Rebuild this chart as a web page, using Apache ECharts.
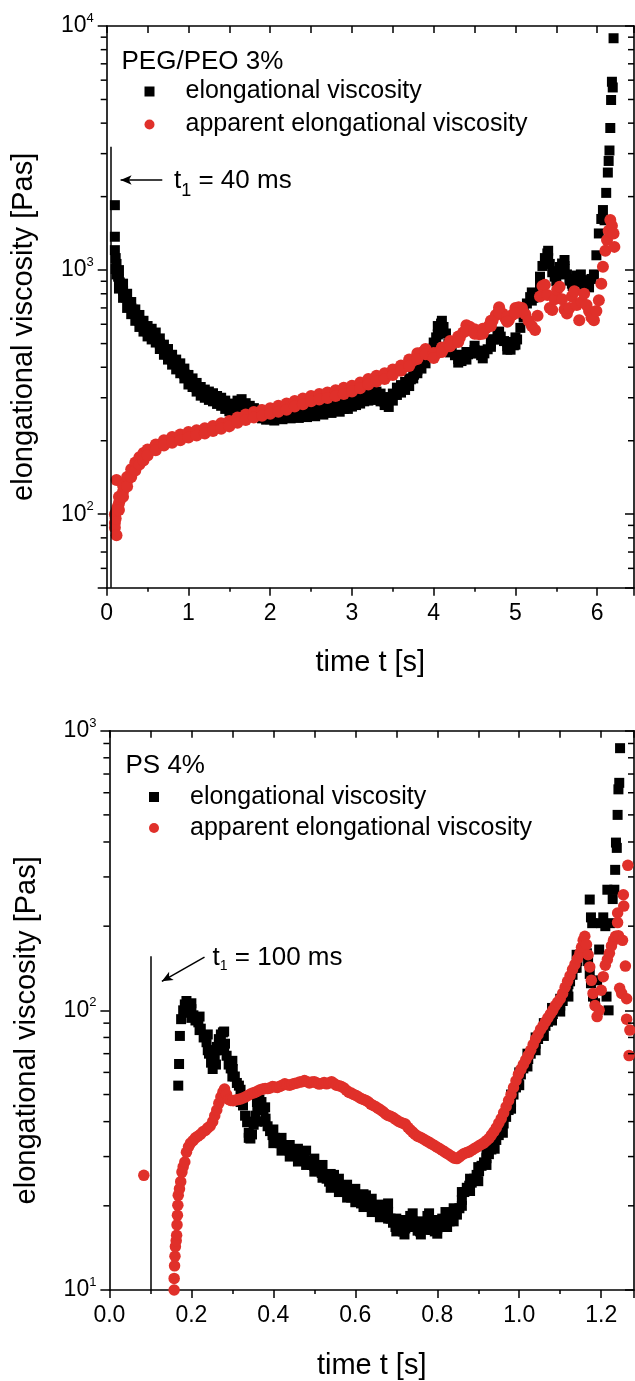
<!DOCTYPE html>
<html><head><meta charset="utf-8">
<script src="https://cdn.jsdelivr.net/npm/echarts@6/dist/echarts.min.js"></script>
<style>html,body{margin:0;padding:0;background:#fff;}#c{width:635px;height:1381px;}</style>
</head><body><div id="c"></div>
<script>
const FONT = '"Liberation Sans", Arial, sans-serif';
const RED = '#E0302A';
const seriesNames = ['elongational viscosity', 'apparent elongational viscosity'];
const panelTitles = ['PEG/PEO 3%', 'PS 4%'];
const xTitle = 'time t [s]';
const yTitle = 'elongational viscosity [Pas]';
const annotTexts = [['t', '1', ' = 40 ms'], ['t', '1', ' = 100 ms']];

// axes ranges
const topX = {min: 0, max: 6.45, interval: 1};
const topY = {min: 50, max: 10000};
const botX = {min: 0, max: 1.28, interval: 0.2};
const botY = {min: 10, max: 1000};
const topMinorY = [60,70,80,90,200,300,400,500,600,700,800,900,2000,3000,4000,5000,6000,7000,8000,9000];
const botMinorY = [20,30,40,50,60,70,80,90,200,300,400,500,600,700,800,900];

// t1 markers (data units)
const topT1 = {t: 0.05, top: 3200, arrowFrom: [0.68, 2340], arrowTo: [0.17, 2340]};
const botT1 = {t: 0.10, top: 156, arrowFrom: [0.232, 155], arrowTo: [0.128, 127]};

// PEG/PEO 3% : [t (s), viscosity (Pas)]
const pegElong = [[0.10,1845],[0.10,1370],[0.10,1207],[0.11,1120],[0.11,1010],[0.12,1060],[0.12,960],[0.13,990],[0.14,940],[0.15,915],[0.16,890],[0.18,860],[0.20,825],[0.22,795],[0.24,770],[0.26,740],[0.28,720],[0.30,700],[0.32,688],[0.34,672],[0.36,652],[0.38,636],[0.40,620],[0.42,606],[0.44,596],[0.46,582],[0.48,570],[0.50,560],[0.53,552],[0.56,544],[0.59,535],[0.62,516],[0.65,500],[0.68,482],[0.71,466],[0.74,452],[0.77,440],[0.80,430],[0.83,418],[0.86,408],[0.89,398],[0.92,386],[0.95,375],[0.98,362],[1.01,352],[1.04,346],[1.07,338],[1.10,330],[1.13,322],[1.16,316],[1.19,311],[1.22,308],[1.25,305],[1.28,301],[1.31,298],[1.34,293],[1.37,290],[1.40,287],[1.43,282],[1.46,277],[1.49,272],[1.52,268],[1.55,271],[1.58,279],[1.61,285],[1.64,286],[1.67,280],[1.70,274],[1.73,271],[1.76,268],[1.79,263],[1.82,260],[1.85,258],[1.88,256],[1.91,254],[1.94,250],[1.97,251],[2.00,252],[2.04,249],[2.08,254],[2.12,251],[2.16,256],[2.20,254],[2.24,257],[2.28,255],[2.32,259],[2.36,256],[2.40,261],[2.44,258],[2.48,263],[2.52,260],[2.56,266],[2.60,263],[2.64,268],[2.68,265],[2.72,271],[2.76,268],[2.80,275],[2.84,271],[2.88,279],[2.92,277],[2.96,284],[3.00,286],[3.04,290],[3.08,292],[3.12,297],[3.16,300],[3.20,302],[3.24,304],[3.28,306],[3.32,302],[3.36,298],[3.40,288],[3.44,281],[3.48,298],[3.52,310],[3.56,318],[3.60,325],[3.64,333],[3.68,343],[3.72,357],[3.76,373],[3.80,390],[3.84,408],[3.88,424],[3.92,440],[3.96,456],[4.00,480],[4.03,530],[4.06,575],[4.09,604],[4.12,585],[4.15,550],[4.18,500],[4.22,470],[4.26,448],[4.30,432],[4.34,424],[4.38,436],[4.42,452],[4.46,462],[4.50,470],[4.54,458],[4.58,448],[4.62,456],[4.66,474],[4.70,500],[4.74,520],[4.78,538],[4.82,534],[4.86,512],[4.90,488],[4.94,472],[4.98,492],[5.02,520],[5.06,580],[5.10,660],[5.14,730],[5.18,775],[5.22,770],[5.26,790],[5.30,900],[5.33,1040],[5.36,1120],[5.39,1170],[5.42,1060],[5.45,980],[5.48,940],[5.51,960],[5.54,1030],[5.57,1064],[5.60,1040],[5.63,960],[5.66,905],[5.69,880],[5.72,910],[5.75,950],[5.78,930],[5.81,900],[5.84,870],[5.87,855],[5.90,880],[5.93,920],[5.96,960],[5.99,1150],[6.02,1413],[6.05,1620],[6.07,1762],[6.09,1600],[6.11,2072],[6.13,2510],[6.14,2800],[6.15,3090],[6.16,3820],[6.17,4977],[6.18,5910],[6.19,5600],[6.20,8909]];
// scatter at the upper / lower edge of the measured band
const pegElongEdge = [[0.15,1000],[0.15,840],[0.20,880],[0.20,770],[0.25,800],[0.25,700],[0.30,740],[0.30,660],[0.35,690],[0.35,620],[0.40,655],[0.40,585],[0.45,620],[0.45,560],[0.50,590],[0.50,535],[0.55,575],[0.55,520],[0.60,555],[0.60,505],[0.65,525],[0.65,475],[0.70,495],[0.70,450],[0.75,475],[0.75,430],[0.80,450],[0.80,410],[0.85,430],[0.85,392],[0.90,415],[0.90,378],[0.95,395],[0.95,360],[1.00,372],[1.00,340],[1.05,360],[1.05,332],[1.10,345],[1.10,318],[1.15,332],[1.15,306],[1.20,324],[1.20,300],[1.25,318],[1.25,294],[1.30,313],[1.30,290],[1.35,305],[1.35,283],[1.40,300],[1.40,278],[1.45,292],[1.45,270],[1.50,284],[1.50,264],[1.55,280],[1.55,262],[1.60,292],[1.60,275],[1.65,296],[1.65,276],[1.70,285],[1.70,266],[1.75,278],[1.75,262],[1.80,272],[1.80,255],[1.85,268],[1.85,250],[1.90,264],[1.90,247],[1.95,260],[1.95,244],[2.00,262],[2.00,245],[2.05,260],[2.05,242],[2.10,264],[2.10,247],[2.15,262],[2.15,245],[2.20,266],[2.20,248],[2.25,265],[2.25,247],[2.30,269],[2.30,250],[2.35,266],[2.35,248],[2.40,272],[2.40,252],[2.45,268],[2.45,250],[2.50,274],[2.50,255],[2.55,271],[2.55,252],[2.60,277],[2.60,258],[2.65,279],[2.65,256],[2.70,283],[2.70,262],[2.75,280],[2.75,260],[2.80,288],[2.80,266],[2.85,284],[2.85,263],[2.90,292],[2.90,270],[2.95,291],[2.95,270],[3.00,298],[3.00,276],[3.05,302],[3.05,280],[3.10,306],[3.10,284],[3.15,312],[3.15,290],[3.20,314],[3.20,292],[3.25,318],[3.25,294],[3.30,318],[3.30,295],[3.35,312],[3.35,290],[3.40,302],[3.40,280],[3.45,295],[3.45,275],[3.50,312],[3.50,292],[3.55,330],[3.55,308],[3.60,338],[3.60,315],[3.65,348],[3.65,323],[3.70,360],[3.70,335],[3.75,386],[3.75,360],[3.80,405],[3.80,378],[3.85,425],[3.85,395],[3.90,445],[3.90,415],[3.95,470],[3.95,440],[4.00,505],[4.00,465],[4.05,590],[4.05,545],[4.10,620],[4.10,580],[4.20,500],[4.20,460],[4.30,450],[4.30,418],[4.40,462],[4.40,430],[4.50,490],[4.50,455],[4.60,468],[4.60,435],[4.70,520],[4.70,485],[4.80,560],[4.80,520],[4.90,508],[4.90,472],[5.00,530],[5.00,495],[5.10,690],[5.10,640],[5.20,810],[5.20,750],[5.30,940],[5.30,860],[5.40,1200],[5.40,1120],[5.50,990],[5.50,900],[5.60,1100],[5.60,1010],[5.70,920],[5.70,860],[5.80,960],[5.80,890],[5.90,910],[5.90,850]];
const pegApparent = [[0.10,100],[0.10,92],[0.10,88],[0.11,96],[0.12,138],[0.12,82],[0.12,103],[0.13,106],[0.14,108],[0.15,111],[0.16,114],[0.18,119],[0.20,124],[0.22,129],[0.24,134],[0.26,139],[0.28,143],[0.30,147],[0.32,151],[0.34,155],[0.36,159],[0.38,162],[0.40,165],[0.42,168],[0.44,170],[0.46,173],[0.48,176],[0.50,179],[0.53,182],[0.56,185],[0.59,188],[0.62,190],[0.65,192],[0.68,194],[0.71,196],[0.74,198],[0.77,200],[0.80,201],[0.83,203],[0.86,204],[0.89,206],[0.92,207],[0.95,209],[0.98,210],[1.01,212],[1.04,213],[1.07,214],[1.10,215],[1.13,217],[1.16,218],[1.19,219],[1.22,221],[1.25,222],[1.28,224],[1.31,225],[1.34,226],[1.37,228],[1.40,230],[1.43,231],[1.46,233],[1.49,235],[1.52,237],[1.55,239],[1.58,241],[1.61,243],[1.64,245],[1.67,248],[1.70,249],[1.73,251],[1.76,253],[1.79,254],[1.82,256],[1.85,257],[1.88,258],[1.91,260],[1.94,262],[1.97,263],[2.00,264],[2.04,266],[2.08,269],[2.12,271],[2.16,273],[2.20,275],[2.24,278],[2.28,281],[2.32,284],[2.36,287],[2.40,289],[2.44,292],[2.48,295],[2.52,298],[2.56,300],[2.60,302],[2.64,304],[2.68,306],[2.72,308],[2.76,310],[2.80,312],[2.84,315],[2.88,317],[2.92,320],[2.96,323],[3.00,326],[3.04,329],[3.08,334],[3.12,339],[3.16,344],[3.20,348],[3.24,353],[3.28,357],[3.32,361],[3.36,364],[3.40,368],[3.44,372],[3.48,377],[3.52,384],[3.56,390],[3.60,395],[3.64,401],[3.68,409],[3.72,418],[3.76,428],[3.80,442],[3.84,456],[3.88,464],[3.92,455],[3.96,448],[4.00,444],[4.04,456],[4.08,466],[4.12,476],[4.16,486],[4.20,496],[4.24,503],[4.28,512],[4.32,530],[4.36,555],[4.40,575],[4.44,586],[4.48,565],[4.52,550],[4.56,546],[4.60,560],[4.64,578],[4.68,595],[4.72,620],[4.76,655],[4.80,686],[4.84,664],[4.88,630],[4.92,625],[4.96,655],[5.00,680],[5.04,705],[5.08,700],[5.12,660],[5.16,620],[5.20,590],[5.24,568],[5.27,650],[5.30,780],[5.33,860],[5.36,870],[5.39,790],[5.42,700],[5.45,686],[5.48,760],[5.51,830],[5.54,855],[5.57,760],[5.60,690],[5.63,664],[5.66,700],[5.69,780],[5.72,820],[5.75,720],[5.78,623],[5.81,740],[5.84,800],[5.87,720],[5.90,680],[5.93,640],[5.96,623],[5.99,680],[6.02,753],[6.05,880],[6.07,1033],[6.10,1200],[6.12,1327],[6.14,1450],[6.16,1603],[6.18,1520],[6.20,1413],[6.21,1245]];
const pegApparentEdge = [[0.15,118],[0.15,104],[0.20,131],[0.20,118],[0.25,142],[0.25,130],[0.30,153],[0.30,142],[0.35,163],[0.35,151],[0.40,171],[0.40,160],[0.45,178],[0.45,166],[0.50,184],[0.50,174],[0.60,193],[0.60,183],[0.70,201],[0.70,191],[0.80,207],[0.80,196],[0.90,212],[0.90,201],[1.00,217],[1.00,206],[1.10,221],[1.10,210],[1.20,225],[1.20,214],[1.30,230],[1.30,219],[1.40,236],[1.40,224],[1.50,241],[1.50,229],[1.60,249],[1.60,237],[1.70,256],[1.70,243],[1.80,262],[1.80,249],[1.90,267],[1.90,253],[2.00,272],[2.00,258],[2.10,278],[2.10,263],[2.20,284],[2.20,268],[2.30,291],[2.30,276],[2.40,298],[2.40,282],[2.50,305],[2.50,290],[2.60,311],[2.60,295],[2.70,315],[2.70,299],[2.80,322],[2.80,305],[2.90,330],[2.90,311],[3.00,336],[3.00,318],[3.10,346],[3.10,328],[3.20,358],[3.20,340],[3.30,369],[3.30,350],[3.40,378],[3.40,358],[3.50,392],[3.50,372],[3.60,407],[3.60,387],[3.70,430],[3.70,405],[3.80,456],[3.80,432],[3.90,475],[3.90,452],[4.00,458],[4.00,436],[4.10,482],[4.10,462],[4.20,512],[4.20,488],[4.30,535],[4.30,508],[4.40,595],[4.40,565],[4.50,572],[4.50,548],[4.60,575],[4.60,548],[4.70,620],[4.70,590],[4.80,705],[4.80,670],[4.90,645],[4.90,615],[5.00,700],[5.00,665]];

// PS 4% : [t (s), viscosity (Pas)]
const psElong = [[0.168,53.8],[0.170,64.3],[0.172,81],[0.175,93],[0.180,100],[0.184,105],[0.188,108],[0.192,103],[0.195,98],[0.200,101],[0.205,96],[0.210,92],[0.217,90.6],[0.223,86],[0.230,80],[0.237,76.9],[0.243,70],[0.248,65],[0.252,61.7],[0.257,68],[0.262,74],[0.267,78.9],[0.272,82],[0.277,83.4],[0.282,76],[0.286,68.8],[0.291,64],[0.296,62],[0.301,61.7],[0.306,58],[0.311,55],[0.316,53.8],[0.321,49],[0.326,45.7],[0.331,42],[0.336,39.8],[0.340,36.5],[0.344,34.8],[0.348,36],[0.352,39],[0.356,42],[0.361,45.5],[0.366,48],[0.371,47],[0.376,44],[0.381,41],[0.386,38.5],[0.392,37],[0.398,35.8],[0.404,35],[0.41,34.2],[0.416,33.5],[0.422,33],[0.428,32.6],[0.434,32],[0.44,31.4],[0.446,31],[0.452,30.4],[0.458,30.2],[0.464,29.6],[0.47,29.2],[0.476,30],[0.482,29],[0.488,28.4],[0.494,28],[0.50,27.8],[0.506,27],[0.512,26.6],[0.518,26.2],[0.524,25.4],[0.53,25],[0.536,24.4],[0.542,24.3],[0.548,25.8],[0.554,24.6],[0.56,23.4],[0.566,23],[0.572,22.8],[0.578,22.4],[0.584,21.6],[0.59,21.4],[0.596,21.8],[0.602,21.5],[0.608,20.8],[0.614,20.4],[0.62,20.6],[0.626,21.8],[0.632,21],[0.638,20],[0.644,19.6],[0.65,19.4],[0.656,19],[0.662,18.6],[0.668,18.5],[0.674,19.4],[0.68,19],[0.686,18],[0.692,17.4],[0.698,16.8],[0.704,16.6],[0.71,16.4],[0.716,16.2],[0.722,16.6],[0.728,17.6],[0.734,18.4],[0.74,17.6],[0.746,16.8],[0.752,16.3],[0.758,16.2],[0.764,16.6],[0.77,17.2],[0.776,18.4],[0.782,17.4],[0.788,16.4],[0.794,16.2],[0.80,16.6],[0.806,17.4],[0.812,18],[0.818,17.2],[0.824,16.8],[0.83,17.6],[0.836,18.4],[0.842,18.8],[0.848,18.6],[0.854,19.6],[0.86,21],[0.866,22.4],[0.872,23.2],[0.878,23.6],[0.884,24.2],[0.89,25],[0.896,25.8],[0.902,26.6],[0.908,27.8],[0.914,28.6],[0.92,29.6],[0.926,30.6],[0.932,31.8],[0.938,33],[0.944,34.4],[0.95,35.8],[0.956,37.4],[0.962,39.4],[0.968,41.6],[0.974,44],[0.98,47],[0.986,50],[0.992,53],[0.998,56],[1.004,59],[1.01,62],[1.016,64.5],[1.022,67],[1.028,70],[1.034,73],[1.04,76],[1.046,79],[1.052,82],[1.058,85],[1.064,88],[1.07,91],[1.076,94],[1.082,97],[1.088,100],[1.094,102],[1.10,104],[1.106,108],[1.112,114],[1.118,120],[1.124,127],[1.13,134],[1.136,142],[1.142,150],[1.148,158],[1.154,165],[1.16,170],[1.165,160],[1.168,150],[1.172,249],[1.172,135],[1.175,215],[1.175,125],[1.178,205],[1.18,112],[1.185,106],[1.19,128],[1.195,165],[1.20,205],[1.205,215],[1.21,200],[1.213,112],[1.215,270],[1.218,100],[1.222,205],[1.228,250],[1.232,270],[1.234,318],[1.236,398],[1.238,381],[1.24,500],[1.242,617],[1.244,651],[1.246,866]];
const psElongEdge = [[0.19,100],[0.20,106],[0.20,94],[0.22,95],[0.22,85],[0.24,82],[0.24,72],[0.26,72],[0.26,64],[0.28,84],[0.28,72],[0.30,66],[0.30,58],[0.32,52],[0.32,47],[0.34,40],[0.34,35],[0.36,47],[0.36,40],[0.38,45],[0.38,40],[0.40,37.5],[0.40,33.5],[0.42,35],[0.42,31.5],[0.44,33],[0.44,30],[0.46,32],[0.46,28.8],[0.48,31.5],[0.48,28],[0.50,29.5],[0.50,26.5],[0.52,28],[0.52,25.2],[0.54,26],[0.54,23.2],[0.56,25],[0.56,22.4],[0.58,23.8],[0.58,21.4],[0.60,23],[0.60,20.6],[0.62,22],[0.62,19.8],[0.64,21.2],[0.64,19],[0.66,20.2],[0.66,18.2],[0.68,20.4],[0.68,18],[0.70,18],[0.70,16.2],[0.72,17.8],[0.72,15.8],[0.74,18.8],[0.74,16.8],[0.76,17.6],[0.76,15.8],[0.78,18.8],[0.78,16.4],[0.80,17.8],[0.80,15.9],[0.82,19],[0.82,16.8],[0.84,19.6],[0.84,17.6],[0.86,22.4],[0.86,20],[0.88,25],[0.88,22.6],[0.90,27.5],[0.90,24.5],[0.92,31],[0.92,28],[0.94,35],[0.94,32],[0.96,40.5],[0.96,36.5],[0.98,50],[0.98,44.5],[1.00,60],[1.00,54],[1.02,70],[1.02,63],[1.04,80],[1.04,72],[1.06,90],[1.06,81],[1.08,102],[1.08,92],[1.10,110],[1.10,99],[1.12,124],[1.12,112],[1.14,158],[1.14,142]];
const psApparent = [[0.084,25.7],[0.158,10],[0.158,11],[0.159,12.2],[0.160,13.2],[0.161,14.3],[0.163,15],[0.164,15.7],[0.165,17.1],[0.166,18.5],[0.167,20.1],[0.168,21.8],[0.171,23],[0.174,24.4],[0.177,26.4],[0.180,27.6],[0.184,28.7],[0.188,31.1],[0.193,32.5],[0.198,33.5],[0.204,34.2],[0.210,35],[0.216,35.5],[0.222,36],[0.228,36.8],[0.234,37.2],[0.240,38],[0.246,38.6],[0.252,40],[0.257,42],[0.262,44],[0.267,46.5],[0.272,49],[0.277,51],[0.281,52.3],[0.286,50],[0.291,48],[0.296,47.6],[0.302,47.5],[0.308,47.8],[0.314,48],[0.32,48.2],[0.326,48.6],[0.332,49],[0.338,49.6],[0.344,50.2],[0.35,50.6],[0.356,51],[0.362,51.5],[0.368,52],[0.374,52.3],[0.38,52.6],[0.386,52.5],[0.392,52.8],[0.398,53.4],[0.404,53.2],[0.41,53],[0.416,53.5],[0.422,54],[0.428,54.6],[0.434,54.2],[0.44,54],[0.446,54.4],[0.452,54.8],[0.458,55],[0.464,55.4],[0.47,55.6],[0.476,56.1],[0.482,55.6],[0.488,55],[0.494,55.4],[0.50,55.6],[0.506,55],[0.512,54.5],[0.518,54.8],[0.524,55.2],[0.53,54.6],[0.536,55],[0.542,55.6],[0.548,54.8],[0.554,54],[0.56,53.8],[0.566,53.4],[0.572,52.8],[0.578,51.8],[0.584,51],[0.59,50.6],[0.596,50],[0.602,49.6],[0.608,49],[0.614,48.4],[0.62,48],[0.626,47.6],[0.632,47],[0.638,46.2],[0.644,45.7],[0.65,45.2],[0.656,44.6],[0.662,44],[0.668,43.4],[0.674,42.6],[0.68,42.1],[0.686,41.8],[0.692,41.4],[0.698,40.8],[0.704,40.2],[0.71,39.8],[0.716,39.5],[0.722,39.2],[0.728,38.2],[0.734,37.4],[0.74,36.7],[0.746,36],[0.752,35.5],[0.758,35.2],[0.764,34.8],[0.77,34.4],[0.776,34],[0.782,33.6],[0.788,33.2],[0.794,32.8],[0.80,32.4],[0.806,32],[0.812,31.6],[0.818,31.2],[0.824,30.8],[0.83,30.4],[0.836,30],[0.842,29.6],[0.848,29.5],[0.854,29.9],[0.86,30.4],[0.866,30.8],[0.872,31],[0.878,31.2],[0.884,31.6],[0.89,32],[0.896,32.4],[0.902,32.8],[0.908,33.2],[0.914,33.6],[0.92,34.2],[0.926,34.8],[0.932,35.8],[0.938,36.8],[0.944,38],[0.95,39.5],[0.956,41],[0.962,43],[0.968,45.2],[0.974,47.6],[0.98,50],[0.986,53],[0.992,56],[0.998,59],[1.004,61.5],[1.01,64],[1.016,66.5],[1.022,69],[1.028,72],[1.034,75.5],[1.04,79],[1.046,82],[1.052,85.5],[1.058,88],[1.064,91],[1.07,94],[1.076,97],[1.082,100],[1.088,104],[1.094,107],[1.10,110],[1.106,115],[1.112,121],[1.118,127],[1.124,133],[1.13,140],[1.136,146],[1.142,153],[1.148,160],[1.152,168],[1.156,178],[1.16,184],[1.164,172],[1.168,158],[1.172,143],[1.176,128],[1.18,115],[1.185,104],[1.19,95],[1.195,100],[1.20,118],[1.205,132],[1.21,145],[1.215,152],[1.22,160],[1.225,170],[1.23,178],[1.235,184],[1.24,206],[1.24,223],[1.242,185],[1.245,120],[1.25,115],[1.252,178],[1.254,259],[1.255,236],[1.259,144],[1.262,110],[1.262,93],[1.265,330],[1.268,68.9],[1.27,85]];

const chart = echarts.init(document.getElementById('c'), null, {renderer: 'canvas'});
const axisLineStyle = {color: '#000', width: 1.6};
const tickStyle = {color: '#000', width: 1.5};
const grids = [
  {left: 106.7, top: 26, right: 1, height: 561.7},
  {left: 109.4, top: 730.7, right: 1, height: 561}
];
function pow10Label(v) {
  const l = Math.log10(v), e = Math.round(l);
  if (Math.abs(l - e) > 1e-6) return '';
  return '{b|10}{s|' + e + '}';
}
function xAxisPair(g, rng, fmt) {
  return [{
    gridIndex: g, type: 'value', position: 'bottom', min: rng.min, max: rng.max, interval: rng.interval,
    axisLine: {show: true, onZero: false, lineStyle: axisLineStyle},
    axisTick: {show: true, inside: false, length: 8, lineStyle: tickStyle},
    minorTick: {show: true, splitNumber: 2, length: 4, lineStyle: tickStyle},
    splitLine: {show: false}, minorSplitLine: {show: false},
    axisLabel: {show: true, margin: 14, fontSize: 23, fontFamily: FONT, color: '#000', formatter: fmt, showMaxLabel: false},
    name: xTitle, nameLocation: 'middle', nameGap: 61,
    nameTextStyle: {fontSize: 29, fontFamily: FONT, color: '#000'}
  }, {
    gridIndex: g, type: 'value', position: 'top', min: rng.min, max: rng.max, interval: rng.interval,
    axisLine: {show: true, onZero: false, lineStyle: axisLineStyle},
    axisTick: {show: true, inside: true, length: 7, lineStyle: tickStyle},
    minorTick: {show: true, splitNumber: 2, length: 7, lineStyle: tickStyle},
    splitLine: {show: false}, minorSplitLine: {show: false},
    axisLabel: {show: false}
  }];
}
function yAxisPair(g, rng) {
  return [{
    gridIndex: g, type: 'log', logBase: 10, position: 'left', min: rng.min, max: rng.max,
    axisLine: {show: true, onZero: false, lineStyle: axisLineStyle},
    axisTick: {show: true, inside: false, length: 9, lineStyle: tickStyle},
    splitLine: {show: false},
    axisLabel: {show: true, margin: 13, formatter: pow10Label, color: '#000',
      rich: {b: {fontSize: 23, fontFamily: FONT, color: '#000', lineHeight: 28, verticalAlign: 'middle'},
             s: {fontSize: 13, fontFamily: FONT, color: '#000', lineHeight: 13, verticalAlign: 'top'}}},
    name: yTitle, nameLocation: 'middle', nameGap: 68,
    nameTextStyle: {fontSize: 29, fontFamily: FONT, color: '#000', padding: [0, 40, 0, 0]}
  }, {
    gridIndex: g, type: 'log', logBase: 10, position: 'right', min: rng.min, max: rng.max,
    axisLine: {show: true, onZero: false, lineStyle: axisLineStyle},
    axisTick: {show: true, inside: true, length: 9, lineStyle: tickStyle},
    splitLine: {show: false}, axisLabel: {show: false}
  }];
}
function minorLogTicks(g, values, rng) {
  return {
    type: 'custom', xAxisIndex: g * 2, yAxisIndex: g * 2, silent: true, z: 5, clip: false,
    data: values.map(v => [rng.min, v]),
    encode: {x: 0, y: 1},
    renderItem: (params, api) => {
      const v = api.value(1);
      const pL = api.coord([rng.min, v]);
      const pR = api.coord([rng.max, v]);
      return {type: 'group', children: [
        {type: 'line', shape: {x1: pL[0] - 6, y1: pL[1], x2: pL[0], y2: pL[1]}, style: {stroke: '#000', lineWidth: 1.5}},
        {type: 'line', shape: {x1: pR[0] - 6, y1: pR[1], x2: pR[0], y2: pR[1]}, style: {stroke: '#000', lineWidth: 1.5}}
      ]};
    }
  };
}
function t1Marks(m, yMin) {
  return {
    silent: true, symbol: ['none', 'none'], label: {show: false},
    lineStyle: {color: '#000', width: 1.5, type: 'solid', opacity: 1},
    emphasis: {disabled: true},
    data: [
      [{coord: [m.t, m.top]}, {coord: [m.t, yMin]}],
      [{coord: m.arrowFrom, symbol: 'none'}, {coord: m.arrowTo, symbol: 'arrow', symbolSize: [7, 11]}]
    ]
  };
}
const fmtTop = v => (Math.abs(v - Math.round(v)) < 1e-9 ? String(Math.round(v)) : '');
const fmtBot = v => { const k = v / 0.2; return Math.abs(k - Math.round(k)) < 1e-6 ? v.toFixed(1) : ''; };

const legendBase = {
  orient: 'vertical', itemWidth: 10, itemHeight: 10, selectedMode: false, padding: 0,
  data: [{name: seriesNames[0], icon: 'rect'}, {name: seriesNames[1], icon: 'circle'}],
};
function annot(x, y, parts, subSize) {
  return {type: 'text', x: x, y: y, silent: true, style: {
    text: '{a|' + parts[0] + '}{s|' + parts[1] + '}{a|' + parts[2] + '}',
    verticalAlign: 'top', textVerticalAlign: 'top', align: 'left', textAlign: 'left',
    rich: {a: {fontSize: 26, fontFamily: FONT, fill: '#000', color: '#000', lineHeight: 26, verticalAlign: 'top'},
           s: {fontSize: subSize, fontFamily: FONT, fill: '#000', color: '#000', lineHeight: subSize, verticalAlign: 'top', padding: [14, 0, 0, 0]}}
  }};
}
const blackStyle = {color: '#000', opacity: 1};
const redStyle = {color: RED, opacity: 1};

chart.setOption({
  animation: false,
  backgroundColor: '#fff',
  grid: grids,
  xAxis: [...xAxisPair(0, topX, fmtTop), ...xAxisPair(1, botX, fmtBot)],
  yAxis: [...yAxisPair(0, topY), ...yAxisPair(1, botY)],
  legend: [
    Object.assign({}, legendBase, {left: 144.5, top: 77.5, itemGap: 5,
      textStyle: {fontSize: 25, fontFamily: FONT, color: '#000', lineHeight: 28, padding: [0, 0, 0, 26]}}),
    Object.assign({}, legendBase, {left: 149, top: 783, itemGap: 3,
      textStyle: {fontSize: 25, fontFamily: FONT, color: '#000', lineHeight: 28, padding: [0, 0, 0, 26]}})
  ],
  graphic: [
    {type: 'text', x: 121.5, y: 61.7, silent: true, style: {text: panelTitles[0], fontSize: 26, fontFamily: FONT, fill: '#000', verticalAlign: 'middle', textVerticalAlign: 'middle'}},
    {type: 'text', x: 125.5, y: 765.8, silent: true, style: {text: panelTitles[1], fontSize: 26, fontFamily: FONT, fill: '#000', verticalAlign: 'middle', textVerticalAlign: 'middle'}},
    annot(174, 168, annotTexts[0], 18),
    annot(212.6, 945, annotTexts[1], 14)
  ],
  series: [
    {name: seriesNames[0], type: 'scatter', xAxisIndex: 0, yAxisIndex: 0, symbol: 'rect', symbolSize: 10,
     itemStyle: blackStyle, data: pegElong.concat(pegElongEdge), markLine: t1Marks(topT1, topY.min), z: 2},
    {name: seriesNames[1], type: 'scatter', xAxisIndex: 0, yAxisIndex: 0, symbol: 'circle', symbolSize: 12,
     itemStyle: redStyle, data: pegApparent.concat(pegApparentEdge), z: 3},
    {name: seriesNames[0], type: 'scatter', xAxisIndex: 2, yAxisIndex: 2, symbol: 'rect', symbolSize: 10,
     itemStyle: blackStyle, data: psElong.concat(psElongEdge), markLine: t1Marks(botT1, botY.min), z: 2},
    {name: seriesNames[1], type: 'scatter', xAxisIndex: 2, yAxisIndex: 2, symbol: 'circle', symbolSize: 11.5,
     itemStyle: redStyle, data: psApparent, z: 3},
    minorLogTicks(0, topMinorY, topX),
    minorLogTicks(1, botMinorY, botX)
  ]
});
</script></body></html>
